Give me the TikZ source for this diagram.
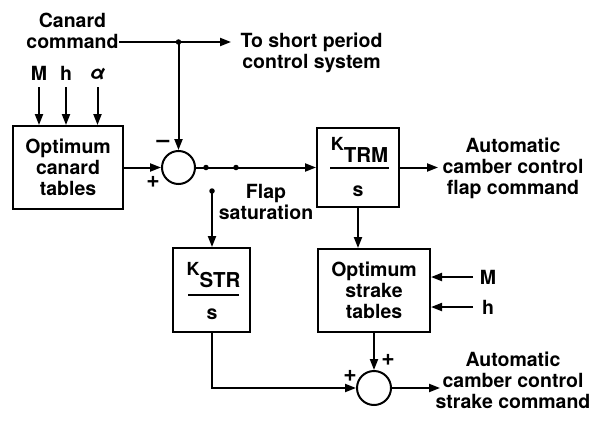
\documentclass[tikz,border=0pt]{standalone}
\usepackage{fontspec}
\setmainfont{TeX Gyre Heros}
\usetikzlibrary{arrows.meta}
\newcommand\lblfont{\fontsize{19.5}{21}\selectfont\bfseries}
\newcommand\kfont{\fontsize{18}{18}\selectfont\bfseries}
\newcommand\subfont{\fontsize{20.5}{20.5}\selectfont\bfseries}
\newcommand\signfont{\fontsize{23}{23}\selectfont\bfseries}
\begin{document}
\begin{tikzpicture}[x=1pt,y=-1pt,
  lw/.style={line width=2pt},
  arr/.style={lw,-{Triangle[length=11pt,width=8pt]}},
  blk/.style={draw,lw,inner sep=0pt,align=center,font=\lblfont},
  sumc/.style={draw,lw,circle,minimum size=33pt,inner sep=0pt},
  dotn/.style={circle,fill,inner sep=0pt,minimum size=5.5pt},
  lbl/.style={font=\lblfont,align=center,inner sep=0pt},
  sign/.style={font=\signfont,inner sep=0pt}]
\useasboundingbox (0,0) rectangle (604,420);

% blocks
\node[blk,minimum width=110pt,minimum height=83pt] (oct) at (68,167.5) {Optimum\\canard\\tables};
\node[sumc] (s1) at (178.5,167.5) {};
\node[blk,minimum width=82pt,minimum height=79pt] (ktrm) at (358,167.5) {};
\node[blk,minimum width=77pt,minimum height=84pt] (kstr) at (211.5,290) {};
\node[blk,minimum width=112pt,minimum height=83pt] (ost) at (374,290.5) {Optimum\\strake\\tables};
\node[sumc,minimum size=34pt] (s2) at (374,388) {};

% fraction contents
\node[inner sep=0pt,anchor=base] (ktrmnum) at (359.5,162) {\raisebox{12pt}{\kfont K}\subfont TRM};
\draw[lw] (330,168) -- (389,168);
\node[lbl,anchor=base] (ktrmden) at (358,196) {s};
\node[inner sep=0pt,anchor=base] (kstrnum) at (213.5,287) {\raisebox{12pt}{\kfont K}\subfont STR};
\draw[lw] (188,295) -- (239,295);
\node[lbl,anchor=base] (kstrden) at (212,319) {s};

% labels
\node[lbl] (cc) at (72.5,30.5) {Canard\\command};
\node[lbl] (tsp) at (311.5,53) {To short period\\control system};
\node[lbl] (M1) at (39,73.5) {M};
\node[lbl] (h1) at (66,73.5) {h};
\node[lbl] (a1) at (97.5,74.5) {\textit{α}};
\node[lbl] (fs) at (266,201.5) {Flap\\saturation};
\node[lbl] (fc) at (513,168) {Automatic\\camber control\\flap command};
\node[lbl] (sc) at (513,380) {Automatic\\camber control\\strake command};
\node[lbl] (M2) at (488,277) {M};
\node[lbl] (h2) at (488,307) {h};
\node[sign] (m1) at (163,144) {--};
\node[sign] (p1) at (153,182) {+};
\node[sign] (p2) at (388,360) {+};
\node[sign] (p3) at (350,376) {+};

% coordinates and dots
\coordinate (ccend) at (119,42);
\node[dotn] (j1) at (178.5,42) {};
\coordinate (tspend) at (231,42);
\node[dotn] (d1) at (206,167.5) {};
\node[dotn] (d2) at (236,167.5) {};
\node[dotn] (d3) at (212,191) {};
\coordinate (fcend) at (438,167.5);
\coordinate (scend) at (440,388);
\coordinate (mst) at (473,277);
\coordinate (hst) at (473,307);
\coordinate (inst) at (0,87);

% connectors
\draw[lw] (ccend) -- (j1.center);
\draw[arr] (j1.center) -- (tspend);
\draw[arr] (j1.center) -- (s1.north);
\draw[arr] (M1 |- inst) -- (M1 |- oct.north);
\draw[arr] (h1 |- inst) -- (h1 |- oct.north);
\draw[arr] (a1 |- inst) -- (a1 |- oct.north);
\draw[arr] (oct.east) -- (s1.west);
\draw[lw] (s1.east) -- (d1.center) -- (d2.center);
\draw[arr] (d2.center) -- (ktrm.west);
\draw[arr] (d3.center) -- (d3 |- kstr.north);
\draw[arr] (ktrm.east) -- (fcend);
\draw[arr] (ktrm.south) -- (ktrm.south |- ost.north);
\draw[arr] (mst) -- (ost.east |- mst);
\draw[arr] (hst) -- (ost.east |- hst);
\draw[arr] (ost.south) -- (s2.north);
\draw[arr] (kstr.south) -- (kstr.south |- s2.west) -- (s2.west);
\draw[arr] (s2.east) -- (scend);
\end{tikzpicture}
\end{document}
